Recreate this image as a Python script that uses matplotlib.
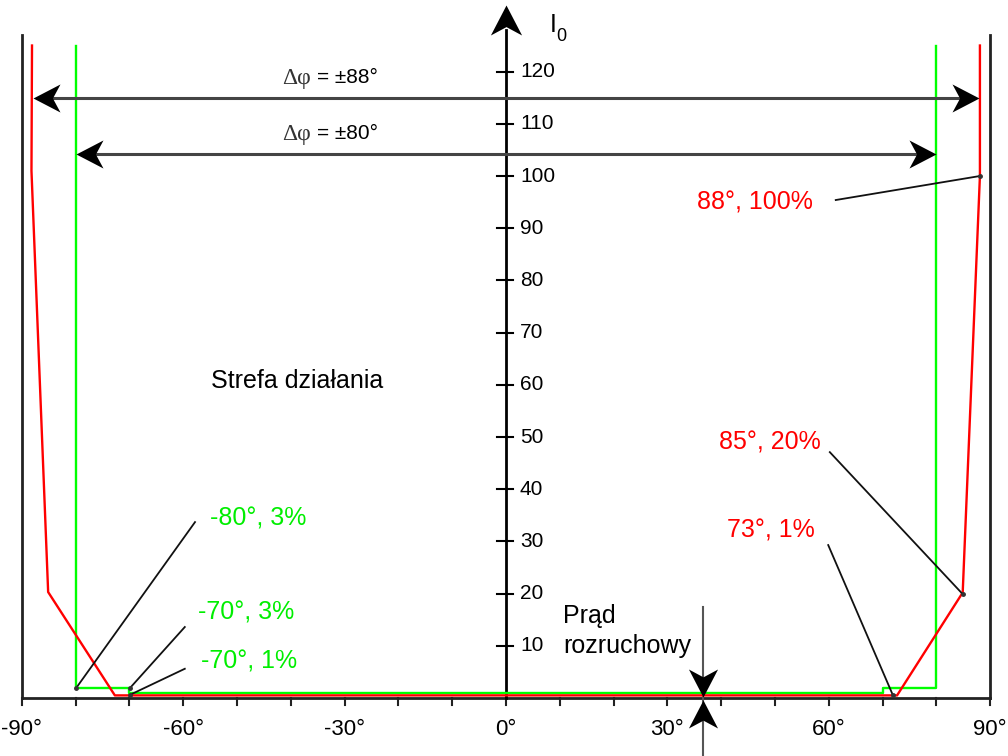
import matplotlib
matplotlib.use('Agg')
import matplotlib.pyplot as plt
from matplotlib.path import Path
from matplotlib.markers import MarkerStyle
from matplotlib.transforms import Affine2D

plt.rcParams['font.family'] = ['Liberation Sans', 'DejaVu Sans']

# --- dane ---------------------------------------------------------------------
# charakterystyka czerwona (kat [deg], prad [%])
red_x = [-88.1, -88.2, -85.1, -72.7, 72.7, 84.9, 88.1, 88.1]
red_y = [125.0, 101.0, 20.3, 0.5, 0.5, 20.2, 100.0, 125.0]
# charakterystyka zielona
green_x = [-80.0, -80.0, -70.0, -70.0, 70.0, 70.0, 80.0, 80.0]
green_y = [125.0, 1.9, 1.9, 1.0, 1.0, 1.9, 1.9, 125.0]

x_ticks = list(range(-90, 91, 10))
x_labels = [-90, -60, -30, 0, 30, 60, 90]
y_ticks = list(range(10, 121, 10))

range_lines = [(88.0, 114.9, '±88°'), (80.0, 104.2, '±80°')]  # (kat, wysokosc, opis)
start_current = 36.6

# opisy punktow: tekst, kolor, pozycja tekstu, poczatek linii, koniec linii
notes = [
    ('88°, 100%', 'red', (46.3, 95.0), (61.3, 95.4), (88.1, 100.0)),
    ('85°, 20%', 'red', (49.1, 49.0), (60.2, 47.1), (84.9, 19.9)),
    ('73°, 1%', 'red', (49.3, 32.0), (59.9, 29.3), (71.9, 0.6)),
    ('-80°, 3%', 'green', (-46.1, 34.3), (-57.8, 33.7), (-79.9, 1.9)),
    ('-70°, 3%', 'green', (-48.3, 16.3), (-59.7, 13.6), (-69.9, 1.9)),
    ('-70°, 1%', 'green', (-47.8, 6.9), (-59.7, 5.6), (-69.9, 0.6)),
]
RED = '#ff0000'
GREEN = '#00ee00'
colors = {'red': RED, 'green': GREEN}

fig = plt.figure(figsize=(10.08, 7.56), dpi=100)
ax = fig.add_axes([0, 0, 1, 1])
ax.set_xlim(-94.05, 93.32)
ax.set_ylim(-11.11, 133.72)
ax.axis('off')

# grot strzalki (stealth)
head = Path([(0, 0), (-1, 0.52), (-0.72, 0), (-1, -0.52), (0, 0)],
            [Path.MOVETO, Path.LINETO, Path.LINETO, Path.LINETO, Path.CLOSEPOLY])


def arrowhead(x, y, angle, size=27):
    m = MarkerStyle(head, transform=Affine2D().rotate_deg(angle))
    ax.plot(x, y, marker=m, markersize=size * 0.72 * 2, color='black',
            markeredgewidth=0, zorder=6)


# ramka +-90 i os X
ax.plot([-90, -90], [0, 127], color='#222222', lw=2)
ax.plot([90, 90], [0, 127], color='#222222', lw=2)
ax.plot([-90, 90], [0, 0], color='#222222', lw=2)
for t in x_ticks:
    ax.plot([t, t], [0, -1.4], color='#222222', lw=1.5)
for t in x_labels:
    ax.text(t, -6.0, f'{t}°', ha='center', va='center', fontsize=16)

# os Y
ax.plot([0, 0], [0, 128], color='black', lw=2)
arrowhead(0, 132.8, 90, size=30)
for t in y_ticks:
    ax.plot([-1.7, 1.3], [t, t], color='black', lw=1.5)
    ax.text(2.6, t, str(t), ha='left', va='center', fontsize=15)
ax.text(8.2, 127.6, 'I', ha='left', va='baseline', fontsize=18)
ax.text(9.4, 125.8, '0', ha='left', va='baseline', fontsize=13)

# charakterystyki
ax.plot(green_x, green_y, color='#00ff00', lw=1.7, zorder=4)
ax.plot(red_x, red_y, color=RED, lw=1.7, zorder=4)

# zakresy katowe
for a, h, opis in range_lines:
    ax.plot([-a + 1, a - 1], [h, h], color='#444444', lw=2.2, zorder=5)
    arrowhead(-a, h, 180)
    arrowhead(a, h, 0)
    ax.text(-41.6, h + 3.8, 'Δφ', family=['Liberation Serif', 'DejaVu Serif'],
            fontsize=17, ha='left', va='center', color='#333333')
    ax.text(-35.2, h + 4.0, '= ' + opis, fontsize=15, ha='left', va='center')

# opisy punktow
for txt, c, pos, p0, p1 in notes:
    ax.plot([p0[0], p1[0]], [p0[1], p1[1]], color='#111111', lw=1.3, zorder=5)
    ax.plot(p1[0], p1[1], 'o', color='#333333', ms=2.5, zorder=5)
    ax.text(pos[0], pos[1], txt, color=colors[c], ha='center', va='center', fontsize=18)

ax.text(-38.8, 60.7, 'Strefa działania', ha='center', va='center', fontsize=18)

# prad rozruchowy
ax.plot([start_current, start_current], [17.4, -11.1], color='#555555', lw=1.5)
arrowhead(start_current, 0.2, -90, size=28)
arrowhead(start_current, -0.4, 90, size=28)
ax.text(10.6, 14.4, 'Prąd', ha='left', va='baseline', fontsize=18)
ax.text(10.6, 8.6, 'rozruchowy', ha='left', va='baseline', fontsize=18)

fig.savefig('out.png', dpi=100)
